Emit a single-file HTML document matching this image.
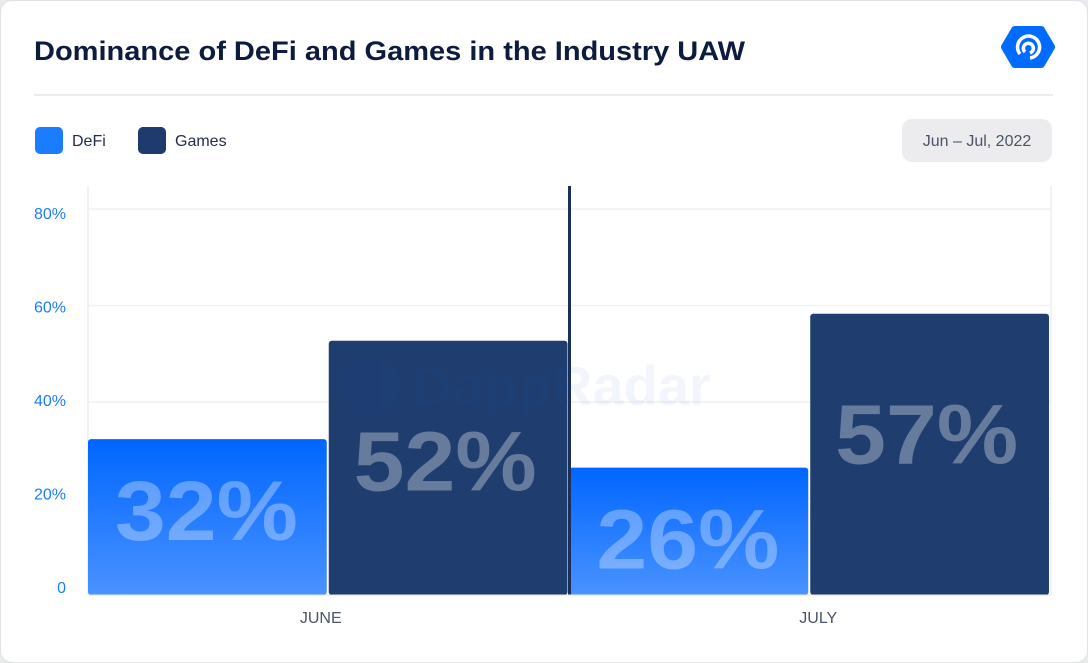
<!DOCTYPE html>
<html><head><meta charset="utf-8"><style>
body{margin:0;background:#e9ebee;font-family:"Liberation Sans",sans-serif}
#card{position:absolute;left:0;top:0;width:1086px;height:661px;background:#fff;border:1px solid #dfe2e6;border-radius:12px}
</style></head><body>
<div id="card">
<svg width="1088" height="663" style="position:absolute;left:-1px;top:-1px">
<text x="34" y="60" font-size="27" font-weight="bold" fill="#0d1b3e" textLength="711" lengthAdjust="spacingAndGlyphs">Dominance of DeFi and Games in the Industry UAW</text>
<g><polygon points="1015,30 1041,30 1051,47 1041,64 1015,64 1005,47" fill="#006cff" stroke="#006cff" stroke-width="8" stroke-linejoin="round"/>
<path d="M1020,54 A11,11 0 1 1 1030,58" fill="none" stroke="#fff" stroke-width="3.5"/><path d="M1025,52 A5,5 0 1 1 1030,53" fill="none" stroke="#fff" stroke-width="3.5"/></g>
<line x1="34" y1="95" x2="1053" y2="95" stroke="#e4e6ea" stroke-width="1.5"/>
<g><rect x="35" y="127" width="28" height="27" rx="5" fill="#1a7dff"/><text x="72" y="146" font-size="16" fill="#1f2d4a">DeFi</text></g>
<g><rect x="138" y="127" width="28" height="27" rx="5" fill="#1f3a6c"/><text x="175" y="146" font-size="16" fill="#1f2d4a">Games</text></g>
<g><rect x="902" y="119" width="150" height="43" rx="10" fill="#ececee"/><text x="977" y="146" font-size="16" fill="#4a5468" text-anchor="middle">Jun – Jul, 2022</text></g>
<defs><linearGradient id="gd" x1="0" y1="0" x2="0" y2="1"><stop offset="0" stop-color="#0066ff"/><stop offset="1" stop-color="#4a92ff"/></linearGradient></defs>
<g id="plot"></g>
<g opacity="0.05"><circle cx="370" cy="385" r="30" fill="#1a66d0"/><text x="412" y="405" font-size="56" font-weight="bold" fill="#1a66d0">DappRadar</text></g>
</svg></div>
<script>
const categories=["JUNE","JULY"];
const defiValues=[32.3,26.4];
const gamesValues=[52.7,58.3];
const defiLabels=["32%","26%"];
const gamesLabels=["52%","57%"];
const yTicks=[0,20,40,60,80];
const yTickLabels=["0","20%","40%","60%","80%"];
const x0=88,x1=1051,yBase=595,pxPer=4.825;
const y=v=>yBase-v*pxPer;
const NS="http://www.w3.org/2000/svg",g=document.getElementById('plot');
function mk(t,a){const e=document.createElementNS(NS,t);for(const k in a)e.setAttribute(k,a[k]);g.appendChild(e);return e;}
yTicks.forEach((t,i)=>{
 if(t>0){const l=mk('line',{x1:x0,x2:x1,y1:y(t),y2:y(t),stroke:'#f0f1f3','stroke-width':1.5});
 
 }
 const tx=mk('text',{x:66,y:y(t)-2+t*0.15,'font-size':16,fill:'#1a7dff','text-anchor':'end'});tx.textContent=yTickLabels[i];
 
 
});
mk('line',{x1:x0,x2:x0,y1:186,y2:yBase,stroke:'#eceef1','stroke-width':1.5});
mk('line',{x1:x1,x2:x1,y1:186,y2:yBase,stroke:'#eceef1','stroke-width':1.5});
const gw=(x1-x0)/categories.length;
categories.forEach((c,i)=>{
 const gx=x0+i*gw,bw=(gw-4)/2;
 const r1=mk('rect',{x:gx,y:y(defiValues[i]),width:bw,height:defiValues[i]*pxPer,rx:3,fill:'url(#gd)'});
 
 
 const r2=mk('rect',{x:gx+bw+2,y:y(gamesValues[i]),width:bw,height:gamesValues[i]*pxPer,rx:3,fill:'#1f3d6e'});
 
 
 const t1=mk('text',{x:gx+bw/2-1,y:y(defiValues[i])+101,'font-size':84,'font-weight':'bold',fill:'#fff','fill-opacity':0.32,'text-anchor':'middle',textLength:183,lengthAdjust:'spacingAndGlyphs'});t1.textContent=defiLabels[i];
 
 
 const t2=mk('text',{x:gx+bw*1.5-1,y:y(gamesValues[i])+150,'font-size':84,'font-weight':'bold',fill:'#fff','fill-opacity':0.32,'text-anchor':'middle',textLength:183,lengthAdjust:'spacingAndGlyphs'});t2.textContent=gamesLabels[i];
 
 
 const xl=mk('text',{x:gx+gw/2+(i?8:-8),y:623,'font-size':16,fill:'#4a5468','text-anchor':'middle'});xl.textContent=c;
 
 
});
const dv=mk('line',{x1:x0+gw,x2:x0+gw,y1:186,y2:yBase,stroke:'#1a2f5c','stroke-width':3});


mk('line',{x1:x0,x2:x1,y1:yBase,y2:yBase,stroke:'#e4e6ea','stroke-width':1});
</script>
</body></html>
